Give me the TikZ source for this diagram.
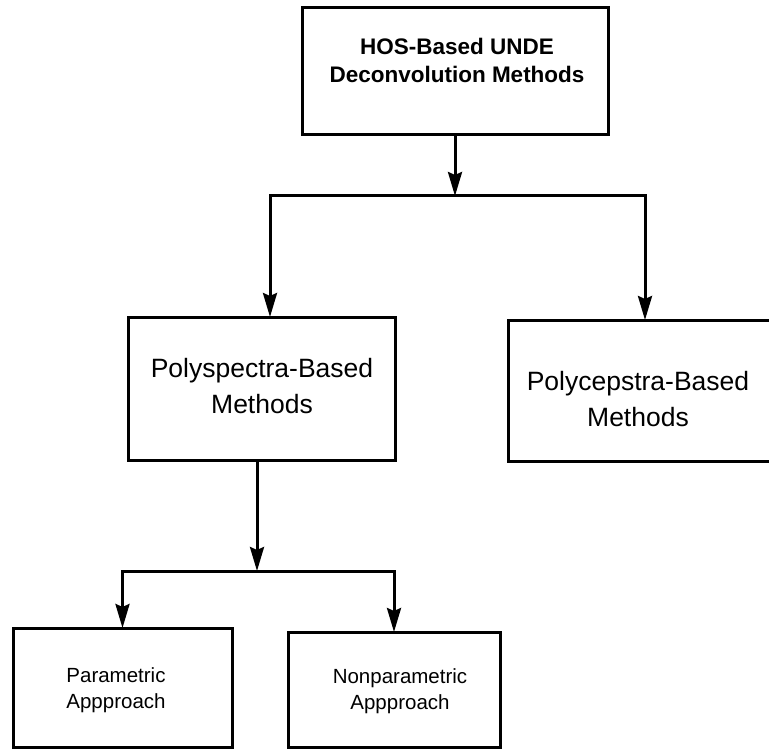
\documentclass[tikz,border=0pt]{standalone}
\usepackage{fontspec}
\setmainfont{Liberation Sans}
\usetikzlibrary{arrows.meta}
\begin{document}
\begin{tikzpicture}[x=1pt,y=-1pt,
  box/.style={draw, line width=3pt, rectangle, inner sep=0pt, outer sep=0pt, anchor=north west},
  conn/.style={line width=3pt},
  arr/.style={conn, -{Stealth[length=24pt,width=14pt,inset=3pt]}},
  lbl/.style={align=center, inner sep=0pt, anchor=north}]
\useasboundingbox (0,0) rectangle (769,749);
\clip (0,0) rectangle (769,749);
% boxes
\node[box, minimum width=306pt, minimum height=127pt] (top) at (302,8) {};
\node[box, minimum width=267pt, minimum height=143pt] (lm) at (128,317) {};
\node[box, minimum width=290pt, minimum height=141pt] (rm) at (508,320) {};
\node[box, minimum width=219pt, minimum height=119pt] (bl) at (13,628) {};
\node[box, minimum width=212pt, minimum height=115pt] (br) at (288,632) {};
% labels
\node[lbl, font=\fontsize{22.5}{28}\selectfont\bfseries] (ttop) at (457,38) {HOS-Based UNDE\\Deconvolution Methods};
\node[lbl, font=\fontsize{26.5}{36}\selectfont] (tlm) at (262,358) {Polyspectra-Based\\Methods};
\node[lbl, font=\fontsize{26.5}{36}\selectfont] (trm) at (638,371) {Polycepstra-Based\\Methods};
\node[lbl, font=\fontsize{20.5}{26}\selectfont] (tbl) at (116,667) {Parametric\\Appproach};
\node[lbl, font=\fontsize{20.5}{26}\selectfont] (tbr) at (400,668) {Nonparametric\\Appproach};
% junctions
\coordinate (j1) at (455,196);
\coordinate (j2) at (257,571);
\coordinate (l1) at (270,317);
\coordinate (r1) at (645,320);
% connectors
\draw[arr] (top.south) -- (j1);
\draw[arr] (j1) -| (l1);
\draw[arr] (j1) -| (r1);
\draw[arr] (j2 |- lm.south) -- (j2);
\draw[arr] (j2) -| (bl.north);
\draw[arr] (j2) -| (br.north);
\end{tikzpicture}
\end{document}
